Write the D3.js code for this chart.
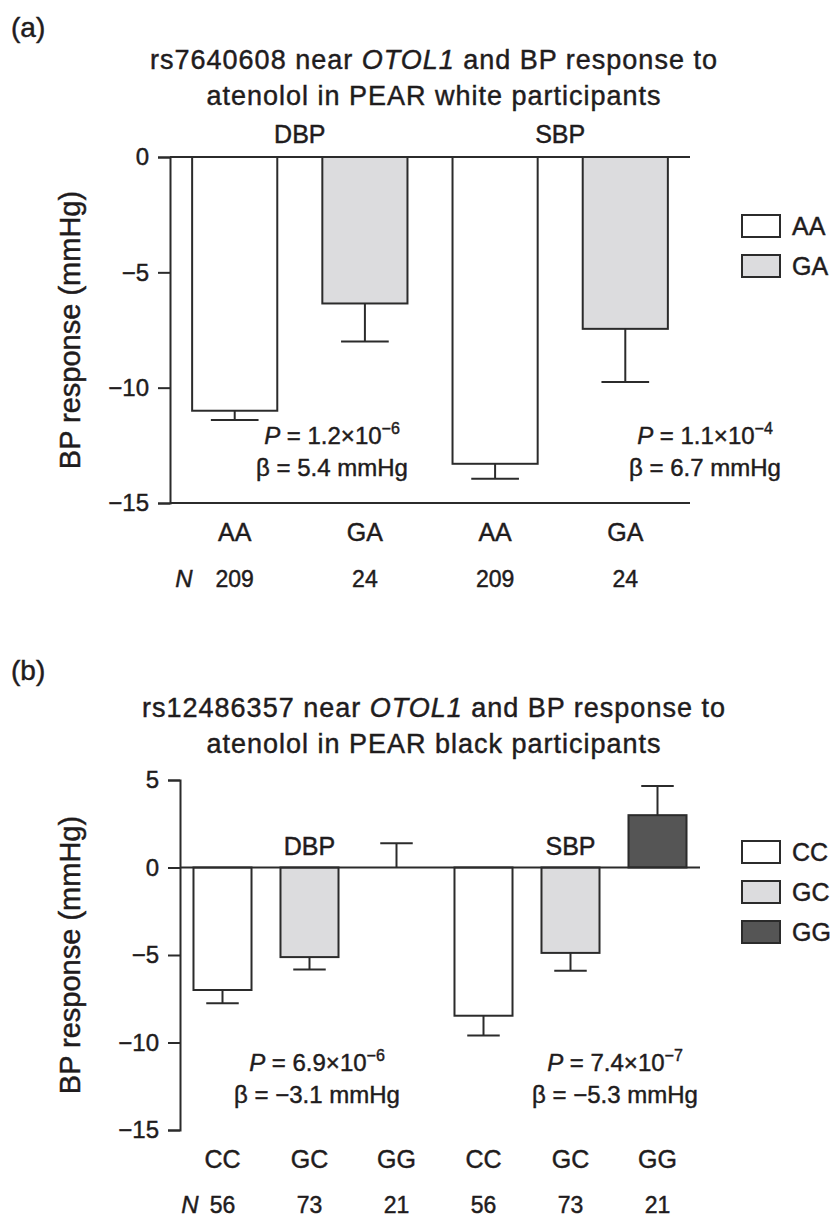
<head>
    <meta charset="utf-8">
    <style> body { margin: 0; background: #fff; } text { fill: #1f1c1d; stroke: #1f1c1d; stroke-width: 0.45px; font-family: "Liberation Sans", Arial, sans-serif; } </style>
    <script src="https://cdn.jsdelivr.net/npm/d3@7"></script>
</head>
<body>
<div id="chart"></div>
<script>

// panel (a): rs7640608, white participants
var genoA = ["AA", "GA", "AA", "GA"];
var valuesA = [-11.0, -6.35, -13.3, -7.45];
var errA = [0.4, 1.65, 0.65, 2.3];
var nA = [209, 24, 209, 24];
var ticksA = [0, -5, -10, -15];
var legendA = ["AA", "GA"];
var statsA = [["1.2×10", "−6", "5.4"], ["1.1×10", "−4", "6.7"]];

// panel (b): rs12486357, black participants
var genoB = ["CC", "GC", "GG", "CC", "GC", "GG"];
var valuesB = [-7.0, -5.12, 0, -8.47, -4.88, 2.99];
var errB = [0.75, 0.71, 1.39, 1.13, 1.02, 1.67];
var nB = [56, 73, 21, 56, 73, 21];
var ticksB = [5, 0, -5, -10, -15];
var legendB = ["CC", "GC", "GG"];
var statsB = [["6.9×10", "−6", "−3.1"], ["7.4×10", "−7", "−5.3"]];

var groups = ["DBP", "SBP"];

var W = 837, H = 1218;
var ink = "#2b2b2b";
var fill = d3.scaleOrdinal()
    .domain(["AA", "GA", "CC", "GC", "GG"])
    .range(["#ffffff", "#dcdcde", "#ffffff", "#dcdcde", "#555555"]);

var svg = d3.select("#chart").append("svg")
    .attr("width", W)
    .attr("height", H);

function panel(o) {

    var g = svg.append("g");

    // panel letter and title
    g.append("text").attr("x", 11).attr("y", o.letterY)
        .attr("font-size", 28).text(o.letter);

    var t1 = g.append("text").attr("x", 434).attr("y", o.titleY)
        .attr("text-anchor", "middle").attr("font-size", 27).attr("letter-spacing", 1.0);
    t1.append("tspan").text(o.snp + " near ");
    t1.append("tspan").attr("font-style", "italic").text("OTOL1");
    t1.append("tspan").text(" and BP response to");

    g.append("text").attr("x", 434).attr("y", o.titleY + 36)
        .attr("text-anchor", "middle").attr("font-size", 27).attr("letter-spacing", 1.0)
        .text("atenolol in PEAR " + o.race + " participants");

    var n = o.geno.length;
    var x = d3.scaleBand()
        .domain(d3.range(n))
        .range([o.x0, o.x1])
        .paddingInner(o.pin)
        .paddingOuter(o.pout);

    var y = d3.scaleLinear()
        .domain(o.domain)
        .range(o.yRange);

    var bw = x.bandwidth();

    // y axis
    var yx = g.append("g")
        .attr("transform", "translate(" + o.x0 + ",0)")
        .call(d3.axisLeft(y).tickValues(o.ticks).tickSize(12).tickPadding(9).tickFormat(d3.format("d")));
    yx.selectAll("path").attr("stroke", ink).attr("stroke-width", 2);
    yx.selectAll("line").attr("stroke", ink).attr("stroke-width", 2);
    yx.selectAll("text").attr("font-size", 24).attr("fill", null)
        .attr("font-family", "Liberation Sans, Arial, sans-serif");

    g.append("text")
        .attr("transform", "translate(70," + ((o.yRange[0] + o.yRange[1]) / 2) + ") rotate(-90)")
        .attr("text-anchor", "middle").attr("dominant-baseline", "central")
        .attr("font-size", 29)
        .text("BP response (mmHg)");

    // bars
    var idx = d3.range(n);
    g.append("g").selectAll("rect").data(idx).join("rect")
        .attr("x", i => x(i))
        .attr("width", bw)
        .attr("y", i => y(Math.max(0, o.values[i])))
        .attr("height", i => Math.abs(y(o.values[i]) - y(0)))
        .attr("fill", i => fill(o.geno[i]))
        .attr("stroke", ink)
        .attr("stroke-width", 2)
        .attr("display", i => o.values[i] == 0 ? "none" : null);

    // error bars, drawn away from zero
    var eb = g.append("g").attr("stroke", ink).attr("stroke-width", 2);
    idx.forEach(function(i) {
        var v = o.values[i];
        var e = v < 0 ? v - o.err[i] : v + o.err[i];
        var cx = x(i) + bw / 2;
        eb.append("line").attr("x1", cx).attr("x2", cx).attr("y1", y(v)).attr("y2", y(e));
        eb.append("line").attr("x1", cx - bw * 0.28).attr("x2", cx + bw * 0.28).attr("y1", y(e)).attr("y2", y(e));
    });

    // zero line (and bottom line in panel a)
    o.hlines.forEach(function(v) {
        g.append("line").attr("x1", o.x0).attr("x2", o.x1)
            .attr("y1", y(v)).attr("y2", y(v))
            .attr("stroke", ink).attr("stroke-width", 2);
    });

    // group labels DBP / SBP
    groups.forEach(function(lab, k) {
        var gi = o.groupAt[k];
        var cx = gi.length == 2 ? (x(gi[0]) + x(gi[1]) + bw) / 2 : x(gi[0]) + bw / 2;
        g.append("text").attr("x", cx).attr("y", o.groupY)
            .attr("text-anchor", "middle").attr("font-size", 25).text(lab);
    });

    // genotype and N rows
    g.append("g").selectAll("text").data(idx).join("text")
        .attr("x", i => x(i) + bw / 2)
        .attr("y", o.genoY)
        .attr("text-anchor", "middle").attr("font-size", 25)
        .text(i => o.geno[i]);

    g.append("text").attr("x", o.nX).attr("y", o.nY)
        .attr("text-anchor", "middle").attr("font-size", 24).attr("font-style", "italic").text("N");
    g.append("g").selectAll("text").data(idx).join("text")
        .attr("x", i => x(i) + bw / 2)
        .attr("y", o.nY)
        .attr("text-anchor", "middle").attr("font-size", 23)
        .text(i => o.ns[i]);

    // P and beta annotations
    o.stats.forEach(function(s, k) {
        var cx = o.statX[k];
        var p = g.append("text").attr("x", cx).attr("y", o.statY)
            .attr("text-anchor", "middle").attr("font-size", 24);
        p.append("tspan").attr("font-style", "italic").text("P");
        p.append("tspan").text(" = " + s[0]);
        p.append("tspan").attr("dy", -10).attr("font-size", 16).text(s[1]);

        g.append("text").attr("x", cx).attr("y", o.statY + 32)
            .attr("text-anchor", "middle").attr("font-size", 24)
            .text("β = " + s[2] + " mmHg");
    });

    // legend
    o.legend.forEach(function(lab, k) {
        var cy = o.legY + k * 40;
        g.append("rect").attr("x", 742).attr("y", cy - 11).attr("width", 38).attr("height", 22)
            .attr("fill", fill(lab)).attr("stroke", ink).attr("stroke-width", 2);
        g.append("text").attr("x", 792).attr("y", cy).attr("dominant-baseline", "central")
            .attr("font-size", 25).text(lab);
    });
}

panel({
    letter: "(a)", letterY: 37, snp: "rs7640608", race: "white", titleY: 69,
    geno: genoA, values: valuesA, err: errA, ns: nA, ticks: ticksA, legend: legendA, stats: statsA,
    x0: 170, x1: 690, pin: 0.346, pout: 0.17,
    domain: [-15, 0], yRange: [503, 157], hlines: [0, -15],
    groupAt: [[0, 1], [2, 3]], groupY: 143,
    genoY: 541, nY: 587, nX: 184,
    statX: [332, 705], statY: 444, legY: 226
});

panel({
    letter: "(b)", letterY: 680, snp: "rs12486357", race: "black", titleY: 717,
    geno: genoB, values: valuesB, err: errB, ns: nB, ticks: ticksB, legend: legendB, stats: statsB,
    x0: 180, x1: 700, pin: 0.333, pout: 0.155,
    domain: [-15, 5], yRange: [1130, 780], hlines: [0],
    groupAt: [[1], [4]], groupY: 855,
    genoY: 1168, nY: 1213, nX: 190,
    statX: [317, 615], statY: 1071, legY: 852
});

</script>
</body>
